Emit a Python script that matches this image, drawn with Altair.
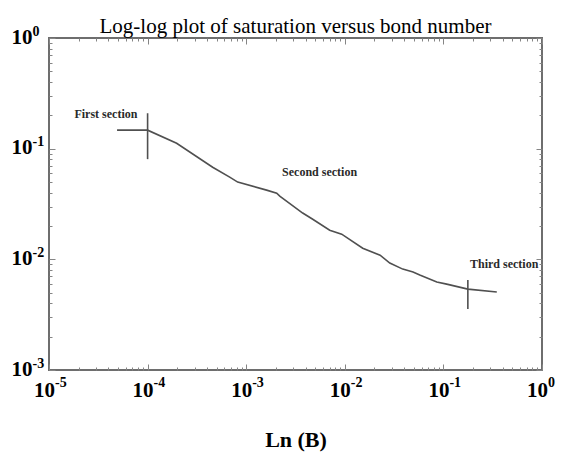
import altair as alt
import pandas as pd

W, H = 493, 332
SERIF = "Liberation Serif"

# ---- curve ----
bond = [4.9e-5, 1.0e-4, 1.97e-4, 4.57e-4, 6.8e-4, 8.2e-4, 1.61e-3, 2.04e-3, 2.19e-3,
        3.74e-3, 4.73e-3, 7.03e-3, 9.3e-3, 1.52e-2, 2.28e-2, 2.86e-2, 3.87e-2, 4.92e-2,
        5.76e-2, 8.57e-2, 0.108, 0.177, 0.348]
sat = [0.147, 0.147, 0.112, 0.068, 0.0553, 0.0499, 0.0422, 0.0396, 0.0372,
       0.0262, 0.0230, 0.0183, 0.0169, 0.0126, 0.0109, 0.00925, 0.00816, 0.00769,
       0.00721, 0.00623, 0.00597, 0.00538, 0.00506]

# ---- section markers ----
sec_x = [1.0e-4, 0.177]
sec_y_top = [0.209, 0.0065]
sec_y_bot = [0.0804, 0.00356]

# ---- annotations ----
ann_text = ["First section", "Second section", "Third section"]
ann_x = [1.81e-5, 2.31e-3, 0.186]
ann_y = [0.188, 0.0566, 0.00835]

# ---- tick labels ----
x_exps = [-5, -4, -3, -2, -1, 0]
y_exps = [-3, -2, -1, 0]
x_major = [10.0 ** e for e in x_exps]
y_major = [10.0 ** e for e in y_exps]
x_minor = [k * 10.0 ** e for e in x_exps[:-1] for k in range(2, 10)]
y_minor = [k * 10.0 ** e for e in y_exps[:-1] for k in range(2, 10)]

curve = pd.DataFrame({"bond": bond, "sat": sat})
secs = pd.DataFrame({"sx": sec_x, "y1": sec_y_top, "y2": sec_y_bot})
ann = pd.DataFrame({"x": ann_x, "y": ann_y, "t": ann_text})
xlab = pd.DataFrame({"v": x_major, "base": ["10"] * len(x_exps), "exp": [str(e) for e in x_exps]})
ylab = pd.DataFrame({"v": y_major, "base": ["10"] * len(y_exps), "exp": [str(e) for e in y_exps]})

xs = alt.Scale(type="log", domain=[1e-5, 1], nice=False)
ys = alt.Scale(type="log", domain=[1e-3, 1], nice=False)
TICK = "#858585"


def tick_axis(orient, offset, values, size):
    return alt.Axis(orient=orient, offset=offset, values=values, tickSize=size,
                    tickColor=TICK, tickWidth=1, labels=False, domain=False,
                    grid=False, minExtent=0)


line = alt.Chart(curve).mark_line(color="#505050", strokeWidth=1.6).encode(
    x=alt.X("bond:Q", scale=xs, title=None, axis=tick_axis("top", -H, x_major, 6)),
    y=alt.Y("sat:Q", scale=ys, title=None, axis=tick_axis("right", -W, y_major, 6)),
)

rules = alt.Chart(secs).mark_rule(color="#505050", strokeWidth=1.6).encode(
    x=alt.X("sx:Q", scale=xs, title=None, axis=tick_axis("top", -H, x_minor, 3)),
    y=alt.Y("y1:Q", scale=ys, title=None, axis=tick_axis("right", -W, y_minor, 3)),
    y2="y2:Q",
)

notes = alt.Chart(ann).mark_text(
    align="left", baseline="alphabetic", font=SERIF, fontWeight="bold",
    fontSize=12, color="#2a2a2a"
).encode(
    x=alt.X("x:Q", scale=xs, title=None, axis=tick_axis("bottom", -H, x_major, 6)),
    y=alt.Y("y:Q", scale=ys, title=None, axis=tick_axis("left", -W, y_major, 6)),
    text="t:N",
)

x_base = alt.Chart(xlab).mark_text(
    align="right", baseline="alphabetic", dx=6, dy=27, font=SERIF,
    fontWeight="bold", fontSize=21, color="black"
).encode(
    x=alt.X("v:Q", scale=xs, title=None, axis=tick_axis("bottom", -H, x_minor, 3)),
    y=alt.YDatum(0.001, scale=ys, title=None, axis=tick_axis("left", -W, y_minor, 3)),
    text="base:N",
)

x_exp = alt.Chart(xlab).mark_text(
    align="left", baseline="alphabetic", dx=6, dy=17, font=SERIF,
    fontWeight="bold", fontSize=14, color="black"
).encode(
    x=alt.X("v:Q", scale=xs, title="Ln (B)",
            axis=alt.Axis(orient="bottom", ticks=False, labels=False, domain=False,
                          grid=False, minExtent=0, titleFont=SERIF, titleFontSize=22,
                          titleFontWeight="bold", titleColor="black",
                          titleBaseline="alphabetic", titlePadding=76)),
    y=alt.YDatum(0.001, scale=ys, axis=None),
    text="exp:N",
)

y_base = alt.Chart(ylab).mark_text(
    align="right", baseline="alphabetic", dx=-16.5, dy=5.5, font=SERIF,
    fontWeight="bold", fontSize=21, color="black"
).encode(
    x=alt.XDatum(1e-5, scale=xs, axis=None),
    y=alt.Y("v:Q", scale=ys, axis=None),
    text="base:N",
)

y_exp = alt.Chart(ylab).mark_text(
    align="left", baseline="alphabetic", dx=-16.5, dy=-2.5, font=SERIF,
    fontWeight="bold", fontSize=14, color="black"
).encode(
    x=alt.XDatum(1e-5, scale=xs, axis=None),
    y=alt.Y("v:Q", scale=ys, axis=None),
    text="exp:N",
)

chart = alt.layer(line, rules, notes, x_base, x_exp, y_base, y_exp).resolve_axis(
    x="independent", y="independent"
).properties(
    width=W,
    height=H,
    autosize=alt.AutoSizeParams(type="none"),
    padding={"left": 49, "top": 38, "right": 19, "bottom": 82},
    background="white",
    title=alt.TitleParams(
        text="Log-log plot of saturation versus bond number",
        font=SERIF, fontSize=21, fontWeight="normal", color="black",
        anchor="middle", frame="group", baseline="alphabetic", offset=0, dy=29,
    ),
).configure_view(stroke="#6e6e6e", strokeWidth=2)

chart.save("out.html", embed_options={"renderer": "svg", "actions": False})
